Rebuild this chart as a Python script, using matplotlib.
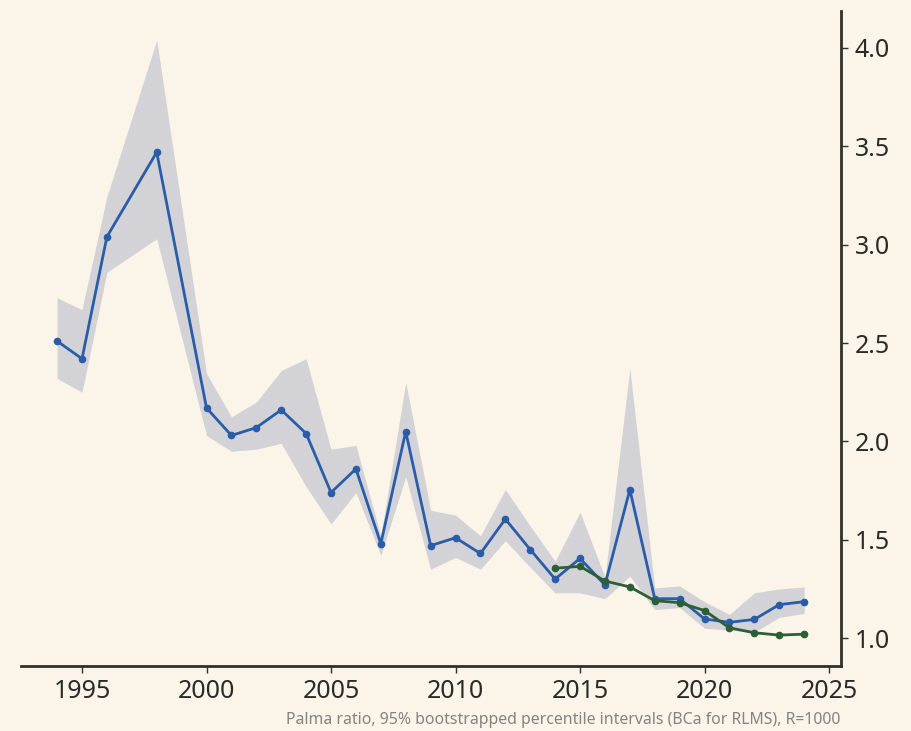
import matplotlib
matplotlib.use("Agg")
import matplotlib.pyplot as plt
import numpy as np

plt.rcParams['font.family'] = ['Noto Sans', 'DejaVu Sans']

years = [1994, 1995, 1996, 1998, 2000, 2001, 2002, 2003, 2004, 2005, 2006, 2007,
         2008, 2009, 2010, 2011, 2012, 2013, 2014, 2015, 2016, 2017, 2018, 2019,
         2020, 2021, 2022, 2023, 2024]
palma = [2.51, 2.42, 3.04, 3.47, 2.17, 2.03, 2.07, 2.16, 2.04, 1.74, 1.86, 1.48,
         2.05, 1.47, 1.51, 1.43, 1.605, 1.45, 1.30, 1.405, 1.27, 1.755, 1.20, 1.20,
         1.097, 1.08, 1.095, 1.17, 1.185]
upper = [2.73, 2.67, 3.245, 4.04, 2.345, 2.125, 2.20, 2.36, 2.42, 1.96, 1.98, 1.52,
         2.30, 1.65, 1.625, 1.52, 1.755, 1.57, 1.39, 1.64, 1.31, 2.37, 1.255, 1.265,
         1.185, 1.12, 1.23, 1.25, 1.26]
lower = [2.32, 2.25, 2.86, 3.03, 2.03, 1.95, 1.96, 1.99, 1.77, 1.58, 1.74, 1.42,
         1.82, 1.35, 1.41, 1.35, 1.495, 1.36, 1.23, 1.23, 1.20, 1.315, 1.145, 1.155,
         1.05, 1.04, 1.03, 1.105, 1.125]

years2 = [2014, 2015, 2016, 2017, 2018, 2019, 2020, 2021, 2022, 2023, 2024]
palma2 = [1.355, 1.365, 1.29, 1.26, 1.19, 1.18, 1.14, 1.052, 1.027, 1.015, 1.02]

xticks = [1995, 2000, 2005, 2010, 2015, 2020, 2025]
yticks = [1.0, 1.5, 2.0, 2.5, 3.0, 3.5, 4.0]
caption = "Palma ratio, 95% bootstrapped percentile intervals (BCa for RLMS), R=1000"

BG = "#faf5e8"
BLUE = "#2a5ca8"
GREEN = "#2d5e36"
BAND = "#d3d3d7"
DARK = "#33302a"

fig = plt.figure(figsize=(9.12, 7.31), dpi=100, facecolor=BG)
ax = fig.add_axes([21/912, 65/731, 820/912, 655/731])
ax.set_facecolor(BG)

ax.fill_between(years, lower, upper, color=BAND, linewidth=0, zorder=1)
ax.plot(years, palma, color=BLUE, lw=2.0, marker='o', ms=4.5, zorder=3)
ax.plot(years2, palma2, color=GREEN, lw=2.0, marker='o', ms=4.5, zorder=4)

ax.set_xlim(1992.55, 2025.48)
ax.set_ylim(0.858, 4.188)

for s in ['top', 'left']:
    ax.spines[s].set_visible(False)
for s in ['right', 'bottom']:
    ax.spines[s].set_color(DARK)
    ax.spines[s].set_linewidth(2.0)

ax.yaxis.tick_right()
ax.set_xticks(xticks)
ax.set_xticklabels([str(x) for x in xticks])
ax.set_yticks(yticks)
ax.set_yticklabels([f"{y:.1f}" for y in yticks])
ax.tick_params(axis='both', colors=DARK, labelcolor="#2b2a26", labelsize=18,
               length=5, width=1.0, direction='out', pad=4)
ax.tick_params(axis='y', pad=5)

fig.text(840/912, 1 - 720/731, caption, ha='right', va='center', fontsize=11.4,
         color="#858380")

fig.savefig("out.png", dpi=100, facecolor=BG)
